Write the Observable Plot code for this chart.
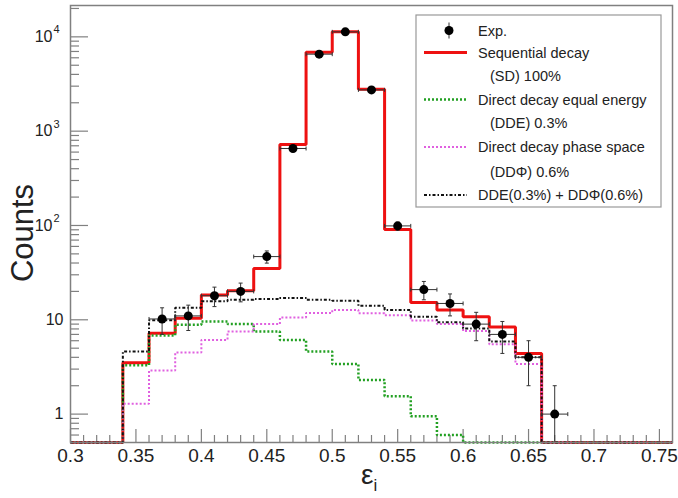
<!DOCTYPE html>
<html>
<head>
<meta charset="utf-8">
<script src="https://cdn.jsdelivr.net/npm/d3@7"></script>
<script src="https://cdn.jsdelivr.net/npm/@observablehq/plot@0.6"></script>
<style>
  body { margin: 0; background: #fff; }
  svg { display: block; }
</style>
</head>
<body>
<div id="chart"></div>
<script>
// Histogram bin edges (width 0.02)
const binEdges = [0.30, 0.32, 0.34, 0.36, 0.38, 0.40, 0.42, 0.44, 0.46, 0.48, 0.50, 0.52,
                  0.54, 0.56, 0.58, 0.60, 0.62, 0.64, 0.66, 0.68, 0.70, 0.72, 0.74, 0.76];

// Simulated spectra, one value per bin
const sdCounts    = [0, 0, 3.5, 7.2, 10.4, 18.3, 20.3, 35, 722, 6880, 11300, 2780, 90.6, 15.3, 12.7, 10.8, 8.4, 4.4, 0, 0, 0, 0, 0];
const ddeCounts   = [0, 0, 3.3, 6.8, 8.85, 9.6, 9.0, 7.5, 6.1, 4.6, 3.4, 2.3, 1.55, 0.95, 0.6, 0, 0, 0, 0, 0, 0, 0, 0];
const ddphiCounts = [0, 0, 1.29, 2.9, 4.5, 6.1, 7.5, 9.0, 10.6, 11.8, 12.7, 11.7, 11.2, 9.8, 9.0, 7.6, 5.5, 3.4, 0, 0, 0, 0, 0];
const sumCounts   = [0, 0, 4.6, 9.9, 13.4, 15.7, 16.3, 16.6, 17.0, 16.3, 15.9, 14.1, 12.7, 10.8, 9.4, 8.1, 5.9, 4.0, 0, 0, 0, 0, 0];

// Measured data: bin centres, counts and statistical errors
const expX   = [0.37, 0.39, 0.41, 0.43, 0.45, 0.47, 0.49, 0.51, 0.53, 0.55, 0.57, 0.59, 0.61, 0.63, 0.65, 0.67];
const expY   = [10.2, 11, 18, 20, 46.8, 655, 6550, 11300, 2740, 99, 20.9, 14.9, 9.0, 7.0, 4.0, 1.0];
const expErr = [3.2, 3.3, 4.2, 4.5, 6.9, 26, 81, 106, 52, 10, 4.6, 3.9, 3.0, 2.6, 2.0, 1.0];
const expHalfWidth = 0.01;

// Axis ticks and labels
const xMajor = [0.30, 0.35, 0.40, 0.45, 0.50, 0.55, 0.60, 0.65, 0.70, 0.75];
const xMajorLabels = ["0.3", "0.35", "0.4", "0.45", "0.5", "0.55", "0.6", "0.65", "0.7", "0.75"];
const xMinor = [0.31, 0.32, 0.33, 0.34, 0.36, 0.37, 0.38, 0.39, 0.41, 0.42, 0.43, 0.44, 0.46, 0.47, 0.48, 0.49,
                0.51, 0.52, 0.53, 0.54, 0.56, 0.57, 0.58, 0.59, 0.61, 0.62, 0.63, 0.64, 0.66, 0.67, 0.68, 0.69,
                0.71, 0.72, 0.73, 0.74];
const yMajor = [1, 10, 100, 1000, 10000];
const yMajorBase = ["1", "10", "10", "10", "10"];
const yMajorExp  = ["", "", "2", "3", "4"];
const yMinor = [0.6, 0.7, 0.8, 0.9, 2, 3, 4, 5, 6, 7, 8, 9, 20, 30, 40, 50, 60, 70, 80, 90,
                200, 300, 400, 500, 600, 700, 800, 900, 2000, 3000, 4000, 5000, 6000, 7000, 8000, 9000, 20000];

// Legend entries
const legendLabels = ["Exp.", "Sequential decay", "(SD) 100%", "Direct decay equal energy", "(DDE) 0.3%",
                      "Direct decay phase space", "(DDΦ) 0.6%", "DDE(0.3%) + DDΦ(0.6%)"];
const legendKeys   = ["exp", "sd", null, "dde", null, "ddphi", null, "sum"];

const styles = {
  sd:    {stroke: "#ee1111", strokeWidth: 3, strokeDasharray: null},
  dde:   {stroke: "#22a022", strokeWidth: 2.5, strokeDasharray: "2,2"},
  ddphi: {stroke: "#e060e0", strokeWidth: 2, strokeDasharray: "2,2"},
  sum:   {stroke: "#111111", strokeWidth: 2, strokeDasharray: "3,2,1.5,2"}
};

const W = 678, H = 498;
const mL = 70, mR = 6, mT = 5, mB = 56;
const yMin = 0.5, yMax = 21500;
const plotW = W - mL - mR, plotH = H - mT - mB;
const font = "'Liberation Sans', Arial, Helvetica, sans-serif";
const axisColor = "#808080";

// Outline of a histogram as a stepped polyline; empty bins sit on the lower edge
function steps(values) {
  const pts = [];
  values.forEach((v, i) => {
    const y = Math.max(v, yMin);
    pts.push({x: binEdges[i], y});
    pts.push({x: binEdges[i + 1], y});
  });
  return pts;
}

const histLine = key => Plot.line(steps({sd: sdCounts, dde: ddeCounts, ddphi: ddphiCounts, sum: sumCounts}[key]),
  {x: "x", y: "y", ...styles[key], strokeLinejoin: "miter", strokeLinecap: "butt"});

const exp = expX.map((x, i) => ({
  x, y: expY[i],
  lo: Math.max(expY[i] - expErr[i], yMin),
  hi: expY[i] + expErr[i],
  hasLoCap: expY[i] - expErr[i] > yMin,
  x1: x - expHalfWidth, x2: x + expHalfWidth
}));

const hBar = {draw(ctx, size) { const r = Math.sqrt(size / Math.PI); ctx.moveTo(-r, 0); ctx.lineTo(r, 0); }};
const vBar = {draw(ctx, size) { const r = Math.sqrt(size / Math.PI); ctx.moveTo(0, -r); ctx.lineTo(0, r); }};
const errColor = "#333";

const yLabelData = yMajor.map((v, i) => ({v, base: yMajorBase[i], exp: yMajorExp[i]}));

const chart = Plot.plot({
  width: W, height: H,
  marginLeft: mL, marginRight: mR, marginTop: mT, marginBottom: mB,
  style: {fontFamily: font, background: "#fff", color: "#222"},
  x: {domain: [0.30, 0.76], axis: null},
  y: {type: "log", domain: [yMin, yMax], axis: null},
  marks: [
    // ticks inside the frame
    Plot.tickX(xMajor, {x: d => d, stroke: axisColor, strokeWidth: 1.2, insetTop: plotH - 13}),
    Plot.tickX(xMinor, {x: d => d, stroke: axisColor, strokeWidth: 1.2, insetTop: plotH - 7}),
    Plot.tickY(yMajor, {y: d => d, stroke: axisColor, strokeWidth: 1.2, insetRight: plotW - 18}),
    Plot.tickY(yMinor, {y: d => d, stroke: axisColor, strokeWidth: 1.2, insetRight: plotW - 9}),
    // tick labels
    Plot.text(xMajor, {x: d => d, text: (d, i) => xMajorLabels[i], frameAnchor: "bottom", lineAnchor: "top",
      dy: 6, fontSize: 19, fill: "#222"}),
    Plot.text(yLabelData, {y: "v", text: "base", frameAnchor: "left", textAnchor: "end",
      fontSize: 16, fill: "#222", filter: d => d.exp === "", dx: -7}),
    Plot.text(yLabelData, {y: "v", text: "base", frameAnchor: "left", textAnchor: "end",
      fontSize: 16, fill: "#222", filter: d => d.exp !== "", dx: -18}),
    Plot.text(yLabelData, {y: "v", text: "exp", frameAnchor: "left", textAnchor: "start",
      fontSize: 11, fill: "#222", filter: d => d.exp !== "", dx: -17, dy: -7}),
    // model histograms
    histLine("sd"),
    histLine("dde"),
    histLine("ddphi"),
    histLine("sum"),
    // experimental points with error bars
    Plot.link(exp, {x1: "x1", x2: "x2", y1: "y", y2: "y", stroke: errColor, strokeWidth: 1}),
    Plot.link(exp, {x1: "x", x2: "x", y1: "lo", y2: "hi", stroke: errColor, strokeWidth: 1}),
    Plot.dot(exp, {x: "x1", y: "y", symbol: vBar, r: 2, stroke: errColor, strokeWidth: 1, fill: "none"}),
    Plot.dot(exp, {x: "x2", y: "y", symbol: vBar, r: 2, stroke: errColor, strokeWidth: 1, fill: "none"}),
    Plot.dot(exp, {x: "x", y: "hi", symbol: hBar, r: 2, stroke: errColor, strokeWidth: 1, fill: "none"}),
    Plot.dot(exp.filter(d => d.hasLoCap), {x: "x", y: "lo", symbol: hBar, r: 2, stroke: errColor, strokeWidth: 1, fill: "none"}),
    Plot.dot(exp, {x: "x", y: "y", r: 4.5, fill: "#000", stroke: "none"}),
    Plot.frame({stroke: axisColor, strokeWidth: 1.5})
  ]
});

document.getElementById("chart").appendChild(chart);

// Axis titles and legend box
const svg = d3.select(chart);

svg.append("text")
  .attr("transform", "translate(33,233) rotate(-90)")
  .attr("text-anchor", "middle")
  .attr("font-family", font)
  .attr("font-size", 31)
  .attr("fill", "#222")
  .text("Counts");

const xt = svg.append("text")
  .attr("x", 361).attr("y", 484)
  .attr("text-anchor", "start")
  .attr("font-family", font)
  .attr("fill", "#222");
xt.append("tspan").attr("font-size", 28).text("ε");
xt.append("tspan").attr("font-size", 17).attr("dy", 7).text("i");

const lg = svg.append("g");
lg.append("rect")
  .attr("x", 416).attr("y", 15).attr("width", 245).attr("height", 192)
  .attr("fill", "#fff").attr("stroke", "#999").attr("stroke-width", 1.2);

const rowY = [30.5, 52.5, 75.5, 99.5, 123, 147, 171.5, 195];
legendLabels.forEach((label, i) => {
  const key = legendKeys[i];
  const y = rowY[i];
  const sub = label.startsWith("(");
  lg.append("text")
    .attr("x", sub ? 490 : 478).attr("y", y)
    .attr("text-anchor", "start")
    .attr("dominant-baseline", "central")
    .attr("font-family", font).attr("font-size", 14.5).attr("fill", "#222")
    .text(label);
  if (key === "exp") {
    lg.append("line").attr("x1", 449).attr("x2", 449).attr("y1", y - 8).attr("y2", y + 8)
      .attr("stroke", errColor).attr("stroke-width", 1);
    lg.append("circle").attr("cx", 449).attr("cy", y).attr("r", 4.5).attr("fill", "#000");
  } else if (key) {
    const s = styles[key];
    lg.append("line").attr("x1", 424).attr("x2", 467).attr("y1", y).attr("y2", y)
      .attr("stroke", s.stroke).attr("stroke-width", s.strokeWidth)
      .attr("stroke-dasharray", s.strokeDasharray);
  }
});
</script>
</body>
</html>
